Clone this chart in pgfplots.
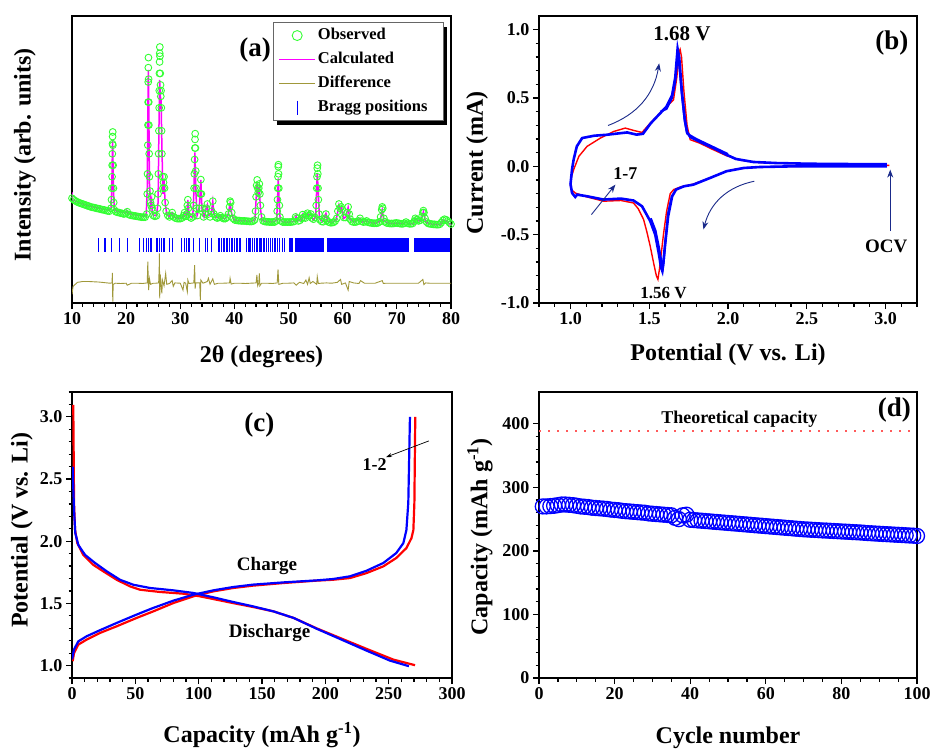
\documentclass[border=0pt]{standalone}
\usepackage{fontspec}
\setmainfont{Liberation Serif}
\usepackage{pgfplots}
\pgfplotsset{compat=1.18}
\usetikzlibrary{arrows.meta}
\definecolor{obsgreen}{HTML}{33FF33}
\definecolor{calcmag}{HTML}{FF00FF}
\definecolor{diffol}{HTML}{A0983A}
\definecolor{arrblue}{HTML}{1A2A8A}
\definecolor{theo}{HTML}{FF5A5A}
\newcommand\fsz[1]{\fontsize{#1pt}{#1pt}\selectfont\bfseries}
\newcommand\lgd[1]{\makebox[116pt][l]{#1}}
\pgfplotsset{
  myax/.style={scale only axis, anchor=south west,
    axis line style={line width=1.5pt},
    tick align=outside, xtick pos=bottom, ytick pos=left,
    major tick length=6pt, minor tick length=3.5pt,
    tick style={line width=1.2pt, black},
    /pgf/number format/assume math mode=true,
    tick label style={font=\fsz{18}},
    label style={font=\fsz{24}},
  },
  legend image code/.code={\draw[mark repeat=2,mark phase=2,#1] plot coordinates {(0pt,0pt) (18pt,0pt) (36pt,0pt)};},
}
\begin{document}
\begin{tikzpicture}[x=1pt,y=1pt]
\useasboundingbox (0,0) rectangle (931,-750);
% ---------------- (a) ----------------
\begin{axis}[myax, at={(72pt,-303pt)}, width=379pt, height=287pt,
  xmin=10, xmax=80, ymin=0, ymax=100, xtick={10,20,...,80}, minor x tick num=4, ytick=\empty,
  xlabel={2θ (degrees)}, ylabel={Intensity (arb. units)},
  xlabel style={at={(axis description cs:0.5,-0.188)}, anchor=center},
  ylabel style={at={(axis description cs:-0.124,0.516)}, anchor=center},
  legend style={at={(0.531,0.977)}, anchor=north west, draw=none, fill=none,
    font=\fsz{16.5}, inner xsep=5pt, inner ysep=3.5pt, row sep=5.5pt,
    nodes={text height=11pt, text depth=3.5pt, inner sep=2pt}},
  legend cell align=left]
\fill[black] (rel axis cs:0.5416,0.6216) rectangle (rel axis cs:0.9906,0.9631);
\draw[black!60, fill=white, line width=0.7pt] (rel axis cs:0.531,0.6355) rectangle (rel axis cs:0.98,0.977);
\addplot[only marks, mark=o, mark size=3.4pt, color=obsgreen, mark options={line width=0.9pt},
  legend image post style={mark size=5pt}] table {
10.0 36.5
10.3 36.0
10.6 35.6
10.9 35.3
11.2 35.0
11.5 34.8
11.8 34.6
12.1 34.4
12.4 34.2
12.7 34.0
13.0 33.8
13.3 33.6
13.6 33.4
13.9 33.3
14.2 33.2
14.5 33.0
14.8 32.9
15.1 32.8
15.4 32.6
15.7 32.5
16.0 32.4
16.3 32.2
16.6 32.1
16.9 32.0
17.2 33
17.3 36
17.35 40
17.4 44
17.42 48
17.45 52
17.48 55.5
17.5 58
17.52 59.6
17.55 55
17.6 48
17.65 40
17.7 35
17.8 32.5
18.1 31.8
18.4 31.6
18.7 31.5
19.0 31.3
19.3 31.2
19.6 31.0
19.9 31.3
20.2 31.8
20.5 30.8
20.8 30.6
21.1 30.5
21.4 30.4
21.7 30.3
22.0 30.2
22.3 30.1
22.6 30.0
22.9 29.9
23.2 29.9
23.5 29.9
23.8 31
23.9 38
23.95 45
24.0 55
24.03 62
24.06 70
24.08 77
24.1 82
24.12 85.5
24.15 78
24.18 70
24.2 62
24.25 52
24.3 44
24.4 39
24.5 35
24.6 34
24.7 37
24.8 33
25.0 30.5
25.3 30.2
25.6 30.4
25.8 33
25.9 38
25.95 45
26.0 52
26.05 60
26.1 68
26.12 74
26.15 80
26.18 84
26.2 87
26.22 89.2
26.25 86
26.3 80
26.35 76
26.4 72
26.45 74
26.5 68
26.55 60
26.6 52
26.7 44
26.8 40
26.9 42
27.0 44
27.1 40
27.2 35
27.4 32
27.7 30.5
28.0 30
28.3 30.5
28.5 31.5
28.8 30
29.1 29.6
29.4 29.4
29.7 29.4
30.0 29.4
30.3 29.6
30.6 30.4
30.8 31.5
31.0 30.2
31.2 31
31.3 34
31.4 36
31.5 33
31.7 30
32.0 29.6
32.3 30
32.45 34
32.55 40
32.6 45
32.65 50
32.7 54
32.72 57
32.75 59
32.8 54
32.85 46
32.9 40
33.0 33
33.2 30.5
33.5 33
33.7 38
33.8 43
33.9 38
34.0 33
34.3 30
34.6 31
34.8 33
35.0 34.5
35.2 31
35.5 30
35.8 32
36.0 35.5
36.2 31
36.5 30
36.8 29.6
37.1 29.8
37.4 30.4
37.7 29.7
38.0 29.4
38.3 29.4
38.6 29.8
38.9 31
39.1 33.5
39.2 35.5
39.3 35
39.5 31.5
39.8 29.4
40.1 28.9
40.4 28.8
40.7 28.7
41.0 28.7
41.3 28.6
41.6 28.6
41.9 28.6
42.2 28.5
42.5 28.5
42.8 28.4
43.1 28.4
43.4 28.5
43.7 28.9
43.9 32
44.0 37
44.1 41
44.2 42.9
44.3 40
44.4 38.5
44.5 40
44.6 41.5
44.7 38
44.8 34
45.0 30
45.3 28.6
45.6 28.4
45.9 28.3
46.2 28.3
46.5 28.2
46.8 28.2
47.1 28.2
47.4 28.2
47.7 28.6
47.9 32
47.95 36
48.0 40
48.05 44
48.1 47.5
48.12 48.2
48.15 45
48.2 40
48.3 34
48.4 30
48.6 28.6
48.9 28.2
49.2 28.2
49.5 28.2
49.8 28.2
50.1 28.2
50.4 28.2
50.7 28.3
51.0 28.4
51.3 30
51.5 29.5
51.8 28.6
52.1 28.8
52.4 29.5
52.6 30.8
52.8 29.8
53.1 29.6
53.3 30.6
53.5 31.3
53.7 30.4
53.9 30.4
54.1 31
54.3 29.6
54.6 29.2
54.9 29.8
55.1 34
55.2 40
55.25 44
55.3 47
55.35 48
55.4 45
55.45 40
55.5 36
55.6 31
55.8 29
56.1 28.4
56.4 28.3
56.7 29.5
56.9 31
57.1 28.8
57.4 28.2
57.7 28.0
58.0 28.0
58.3 28.1
58.6 28.5
58.9 29.5
59.1 32
59.3 34.5
59.5 33
59.7 33.5
59.9 32.5
60.2 29.8
60.5 29.8
60.8 31.5
61.0 33.5
61.2 31
61.4 29.2
61.7 28.4
62.0 28.2
62.3 28.2
62.6 28.3
62.9 28.6
63.2 29.5
63.5 28.5
63.8 28.2
64.1 28.3
64.4 28.6
64.7 28.1
65.0 28
65.3 27.9
65.6 27.8
65.9 27.8
66.2 27.8
66.5 27.9
66.8 28.3
67.0 30
67.2 32.5
67.3 33.5
67.4 33
67.6 29.5
67.8 28.3
68.1 27.9
68.4 27.8
68.7 27.7
69.0 27.7
69.3 27.7
69.6 27.8
69.9 27.9
70.2 27.8
70.5 27.7
70.8 27.6
71.1 27.6
71.4 27.8
71.7 28.2
72.0 27.8
72.3 27.6
72.6 27.6
72.9 27.7
73.2 28.4
73.4 29.5
73.6 29
73.8 29
74.0 28.6
74.3 28.8
74.6 30
74.8 31.5
74.9 32.2
75.0 31.5
75.2 29.5
75.5 28.2
75.8 27.7
76.1 27.6
76.4 27.5
76.7 27.4
77.0 27.4
77.3 27.3
77.6 27.3
77.9 27.4
78.2 28
78.5 28.8
78.8 29.2
79.1 29
79.4 28.6
79.7 28
80.0 27.5
};
\addlegendentry{\lgd{Observed}}
\addplot[calcmag, line width=1.5pt] table {
10.0 38.5
10.1 36.0
10.5 35.6
11 35.2
12 34.5
13 33.9
14 33.4
15 33.0
16 32.6
16.8 32.4
17.2 32.8
17.35 40
17.45 52
17.5 56.8
17.55 52
17.65 40
17.8 33
18 32.2
19 31.7
19.9 31.4
20.1 32.2
20.3 31.3
21 31.0
22 30.6
23 30.3
23.7 30.4
23.9 40
24.0 65
24.1 81.2
24.2 65
24.3 42
24.4 38.3
24.5 34
24.7 36
24.85 31
25.2 30.5
25.6 30.6
25.9 35
26.05 60
26.2 77.7
26.3 72
26.45 70.7
26.6 55
26.8 38
27.0 42.9
27.2 35
27.5 31
28.0 30.1
28.5 31.4
28.8 30
29.5 29.6
30.0 29.6
30.5 29.9
30.8 31.5
31.2 30.5
31.4 35.9
31.6 30.5
32.3 29.8
32.5 38
32.7 52.5
32.9 38
33.1 30.5
33.5 33
33.8 42.9
34.0 33
34.4 30
34.8 33
35.0 34.1
35.2 30.5
35.7 31
36.0 35.3
36.2 31
36.7 29.8
37.2 30.0
37.4 30.5
37.7 29.8
38.2 29.3
38.8 30.5
39.2 34.7
39.5 31
40 28.8
41 28.6
42 28.6
43 28.4
43.8 29
44.0 36
44.2 41.7
44.4 38
44.6 39.7
44.8 33
45.1 28.8
46 28.3
47 28.2
47.8 28.8
48.0 38
48.1 43.4
48.25 36
48.45 29
49 28.2
50 28.2
51.2 28.5
51.4 30.3
51.6 28.6
52.3 29
52.6 30.8
52.9 29.5
53.3 30.5
53.5 31.2
53.8 30.4
54.1 31.0
54.5 29
55.0 30
55.2 40
55.3 45.2
55.45 40
55.7 29.5
56.3 28.3
56.9 31.2
57.2 28.5
58 28
58.8 29
59.3 34.1
59.6 32.5
59.8 33.3
60.2 29.5
60.6 30
61.0 33.3
61.3 29.5
62 28.2
63.2 29.5
63.6 28.2
64.4 28.6
65 28
66 27.8
66.9 28.5
67.3 32.4
67.6 28.7
68.3 27.9
69 27.7
70 27.9
71 27.6
71.7 28.2
72.3 27.6
73 27.6
73.4 29.5
73.8 28.8
74.4 28.5
74.9 31.8
75.3 28.3
76 27.6
77 27.4
78 27.3
78.6 28.9
79.2 28.5
79.6 27.8
80 27.2
};
\addlegendentry{\lgd{Calculated}}
\addplot[diffol, line width=0.9pt] table {
10 3.0
10.2 5.8
11 7.2
12 7.5
13 7.5
14 7.4
15 7.3
16 7.1
17 6.9
17.4 7.0
17.45 10.5
17.5 3
17.55 0.5
17.6 6.5
18 6.9
19 6.8
20 6.9
20.2 6.2
21 6.9
22 6.9
23 6.8
23.9 7
24.0 14.4
24.1 7.5
24.15 4.5
24.3 8.5
24.5 6.5
25 6.9
25.5 6.9
26.0 7
26.1 12
26.15 17.3
26.2 1.6
26.3 10
26.5 5
26.6 3.4
26.7 8
27.0 6
27.3 10.3
27.5 6.5
28 6.8
28.5 7.8
28.7 5.8
29 7
30 6.9
30.5 4.5
30.7 7.2
31 6.9
31.3 3.9
31.4 8
31.6 6.8
32.5 7
32.65 13.2
32.75 5
32.85 7
33.6 7
33.7 1.0
33.8 8
34.2 6.9
35 7.5
35.2 8.6
35.5 6.5
36 8.4
36.3 6.5
37 6.9
38 6.9
39.1 7
39.2 8.6
39.4 6.6
40 6.9
41 6.9
42 6.8
43 6.9
44.0 7
44.15 9.8
44.3 6
44.5 7
44.6 10.3
44.7 6
45 6.9
46 6.9
47 6.8
47.9 7
48.05 11.7
48.2 6.5
49 6.9
50 6.9
51 7.0
51.4 6.2
52 7.2
52.8 6.8
53.2 8
53.5 6.5
53.8 8.8
54 6.8
54.5 7.5
55.2 6.5
55.3 9.2
55.5 6.8
56 6.9
57 7
58 6.9
59 7.2
59.6 8.2
59.8 6.5
60.5 7
61 4.5
61.2 7.5
62 7
63 6.8
63.3 7.8
64 6.9
65 6.9
66 6.9
67.3 7.8
67.5 6.8
68 6.9
70 6.9
72 6.9
74 6.9
74.8 8.2
75 6.4
75.3 7
76 6.9
78 6.9
80 6.9
};
\addlegendentry{\lgd{Difference}}
\addplot[only marks, mark=|, mark size=7pt, color=blue, mark options={line width=1.1pt}] table {
14.9 20.2
16.1 20.2
17.3 20.2
18.8 20.2
20.2 20.2
22.5 20.2
23.2 20.2
23.7 20.2
24.2 20.2
24.6 20.2
25.7 20.2
26.2 20.2
26.5 20.2
27.0 20.2
28.0 20.2
28.5 20.2
30.2 20.2
30.7 20.2
31.1 20.2
31.6 20.2
32.5 20.2
33.5 20.2
34.7 20.2
35.1 20.2
35.8 20.2
37.0 20.2
37.3 20.2
37.6 20.2
37.9 20.2
38.2 20.2
38.5 20.2
38.8 20.2
39.1 20.2
39.4 20.2
39.7 20.2
40.0 20.2
40.3 20.2
40.6 20.2
40.9 20.2
41.2 20.2
42.3 20.2
42.7 20.2
43.0 20.2
43.4 20.2
43.7 20.2
44.0 20.2
44.3 20.2
44.6 20.2
44.9 20.2
45.3 20.2
45.6 20.2
46.0 20.2
46.3 20.2
46.7 20.2
47.0 20.2
47.5 20.2
48.0 20.2
48.4 20.2
48.8 20.2
49.2 20.2
50.2 20.2
50.4 20.2
50.6 20.2
50.8 20.2
51.2 20.2
51.4 20.2
51.6 20.2
51.8 20.2
52.0 20.2
52.2 20.2
52.4 20.2
52.6 20.2
52.8 20.2
53.0 20.2
53.2 20.2
53.4 20.2
53.6 20.2
53.8 20.2
54.0 20.2
54.2 20.2
54.4 20.2
54.6 20.2
54.8 20.2
55.0 20.2
55.2 20.2
55.4 20.2
55.6 20.2
55.8 20.2
56.0 20.2
56.2 20.2
56.4 20.2
57.2 20.2
57.4 20.2
57.6 20.2
57.8 20.2
58.0 20.2
58.2 20.2
58.4 20.2
58.6 20.2
58.8 20.2
59.0 20.2
59.2 20.2
59.4 20.2
59.6 20.2
59.8 20.2
60.0 20.2
60.2 20.2
60.4 20.2
60.6 20.2
60.8 20.2
61.0 20.2
61.2 20.2
61.4 20.2
61.6 20.2
61.8 20.2
62.0 20.2
62.2 20.2
62.4 20.2
62.6 20.2
62.8 20.2
63.0 20.2
63.2 20.2
63.4 20.2
63.6 20.2
63.8 20.2
64.0 20.2
64.2 20.2
64.4 20.2
64.6 20.2
64.8 20.2
65.0 20.2
65.2 20.2
65.4 20.2
65.6 20.2
65.8 20.2
66.0 20.2
66.2 20.2
66.4 20.2
66.6 20.2
66.8 20.2
67.0 20.2
67.2 20.2
67.4 20.2
67.6 20.2
67.8 20.2
68.0 20.2
68.2 20.2
68.4 20.2
68.6 20.2
68.8 20.2
69.0 20.2
69.2 20.2
69.4 20.2
69.6 20.2
69.8 20.2
70.0 20.2
70.2 20.2
70.4 20.2
70.6 20.2
70.8 20.2
71.0 20.2
71.2 20.2
71.4 20.2
71.6 20.2
71.8 20.2
72.0 20.2
72.2 20.2
73.2 20.2
73.4 20.2
73.6 20.2
73.8 20.2
74.0 20.2
74.2 20.2
74.4 20.2
74.6 20.2
74.8 20.2
75.0 20.2
75.2 20.2
75.4 20.2
75.6 20.2
75.8 20.2
76.0 20.2
76.2 20.2
76.4 20.2
76.6 20.2
76.8 20.2
77.0 20.2
77.2 20.2
77.4 20.2
77.6 20.2
77.8 20.2
78.0 20.2
78.2 20.2
78.4 20.2
78.6 20.2
78.8 20.2
79.0 20.2
79.2 20.2
79.4 20.2
79.6 20.2
79.8 20.2
};
\addlegendentry{\lgd{Bragg positions}}
\node[font=\fsz{27}] at (axis cs:43.8,88.2) {(a)};
\end{axis}
% ---------------- (b) ----------------
\begin{axis}[myax, at={(539pt,-303pt)}, width=378pt, height=287pt,
  xmin=0.8, xmax=3.2, ymin=-1, ymax=1.1,
  xtick={1,1.5,2,2.5,3}, minor xtick={0.8,0.9,1.1,1.2,1.3,1.4,1.6,1.7,1.8,1.9,2.1,2.2,2.3,2.4,2.6,2.7,2.8,2.9,3.1,3.2},
  ytick={-1,-0.5,0,0.5,1}, minor y tick num=4,
  xticklabel style={/pgf/number format/.cd, fixed, fixed zerofill, precision=1},
  yticklabel style={/pgf/number format/.cd, fixed, fixed zerofill, precision=1},
  xlabel={Potential (V vs. Li)}, ylabel={Current (mA)},
  xlabel style={at={(axis description cs:0.5,-0.181)}, anchor=center},
  ylabel style={at={(axis description cs:-0.164,0.488)}, anchor=center}]
\addplot[red, line width=1.4pt] table {
3.025 0.007
2.6 0.002
2.3 -0.002
2.15 -0.008
2.05 -0.02
1.99 -0.036
1.886 -0.085
1.78 -0.13
1.70 -0.15
1.655 -0.17
1.633 -0.2
1.61 -0.33
1.59 -0.5
1.575 -0.65
1.565 -0.75
1.555 -0.827
1.545 -0.80
1.53 -0.72
1.506 -0.584
1.485 -0.48
1.464 -0.389
1.43 -0.31
1.40 -0.268
1.32 -0.25
1.21 -0.255
1.105 -0.224
1.03 -0.195
1.005 -0.17
1.0 -0.146
1.005 -0.08
1.02 -0.024
1.053 0.073
1.105 0.146
1.19 0.207
1.274 0.255
1.348 0.28
1.40 0.263
1.454 0.248
1.506 0.316
1.59 0.414
1.654 0.487
1.675 0.65
1.69 0.84
1.696 0.856
1.705 0.80
1.72 0.55
1.74 0.3
1.76 0.195
1.82 0.17
1.90 0.125
1.99 0.078
2.08 0.045
2.2 0.028
2.5 0.018
3.0 0.012
};
\addplot[blue, line width=2.6pt] table {
1.000 -0.13
1.010 -0.02
1.020 0.05
1.040 0.146
1.074 0.207
1.15 0.224
1.23 0.231
1.32 0.243
1.36 0.248
1.42 0.232
1.46 0.238
1.51 0.316
1.57 0.389
1.61 0.438
1.645 0.52
1.665 0.65
1.68 0.86
1.69 0.80
1.707 0.55
1.725 0.35
1.74 0.25
1.76 0.215
1.82 0.18
1.907 0.134
1.99 0.085
2.05 0.054
2.16 0.032
2.31 0.024
2.52 0.019
2.73 0.017
3.00 0.015
3.00 0.000
2.41 0.000
2.20 -0.005
2.10 -0.012
1.99 -0.036
1.886 -0.085
1.78 -0.134
1.72 -0.146
1.67 -0.17
1.645 -0.22
1.62 -0.365
1.60 -0.58
1.588 -0.72
1.583 -0.766
1.575 -0.74
1.56 -0.633
1.538 -0.50
1.506 -0.40
1.454 -0.292
1.40 -0.25
1.32 -0.236
1.21 -0.243
1.105 -0.219
1.042 -0.207
1.03 -0.224
1.01 -0.195
1.000 -0.13
};
\addplot[blue, line width=2pt] table {
1.57 0.40
1.61 0.42
1.645 0.50
1.665 0.62
1.678 0.78
1.69 0.74
1.707 0.52
1.725 0.33
1.74 0.24
1.80 0.20
1.90 0.145
2.0 0.09
};
\addplot[blue, line width=2pt] table {
1.645 -0.21
1.62 -0.34
1.602 -0.55
1.592 -0.70
1.587 -0.74
1.578 -0.70
1.563 -0.60
1.54 -0.47
1.51 -0.38
};
\draw[-{Stealth[length=8pt,width=6pt]}, color=arrblue, line width=0.9pt] (axis cs:1.238,0.299) to[bend right=30] (axis cs:1.563,0.754);
\draw[-{Stealth[length=8pt,width=6pt]}, color=arrblue, line width=0.9pt] (axis cs:2.167,-0.109) to[bend right=32] (axis cs:1.844,-0.462);
\draw[-{Stealth[length=8pt,width=6pt]}, color=arrblue, line width=0.9pt] (axis cs:1.133,-0.353) -- (axis cs:1.285,-0.134);
\draw[-{Stealth[length=8pt,width=6pt]}, color=arrblue, line width=0.9pt] (axis cs:3.03,-0.474) -- (axis cs:3.03,-0.024);
\node[font=\fsz{18}] at (axis cs:1.348,-0.054) {1-7};
\node[font=\fsz{19}] at (axis cs:3.004,-0.589) {OCV};
\node[font=\fsz{21}] at (axis cs:1.707,0.973) {1.68 V};
\node[font=\fsz{17}] at (axis cs:1.591,-0.925) {1.56 V};
\node[font=\fsz{27}] at (axis cs:3.04,0.9) {(b)};
\end{axis}
% ---------------- (c) ----------------
\begin{axis}[myax, at={(72pt,-678pt)}, width=380pt, height=286pt,
  xmin=0, xmax=300, ymin=0.9, ymax=3.2,
  xtick={0,50,...,300}, minor x tick num=4,
  ytick={1,1.5,2,2.5,3}, minor ytick={0.9,1.1,1.2,1.3,1.4,1.6,1.7,1.8,1.9,2.1,2.2,2.3,2.4,2.6,2.7,2.8,2.9,3.1,3.2},
  yticklabel style={/pgf/number format/.cd, fixed, fixed zerofill, precision=1},
  xlabel={Capacity (mAh g\textsuperscript{-1})}, ylabel={Potential (V vs. Li)},
  xlabel style={at={(axis description cs:0.5,-0.199)}, anchor=center},
  ylabel style={at={(axis description cs:-0.132,0.517)}, anchor=center}]
\addplot[red, line width=2.2pt] table {
1.0 3.096
1.4 2.6
1.6 2.31
2.4 2.09
4.2 1.985
8.9 1.89
16.8 1.81
24.7 1.758
35.3 1.69
45.8 1.637
53.7 1.61
69.5 1.592
87.9 1.578
101 1.557
114 1.53
127 1.503
143 1.471
159 1.436
175 1.383
193 1.30
211.6 1.222
232.6 1.134
253.7 1.048
270.8 1.003
};
\addplot[red, line width=2.2pt] table {
0.5 1.035
1.6 1.10
5 1.169
11.6 1.209
22 1.262
35.3 1.316
51 1.383
64.2 1.436
80 1.503
95.8 1.557
111.6 1.597
127.4 1.624
143 1.643
167 1.664
193 1.683
206 1.69
219.5 1.704
232.6 1.744
245.8 1.798
256 1.865
264 1.945
268 2.025
269.5 2.09
270.3 2.31
271 3.0
};
\addplot[blue, line width=2.2pt] table {
0.5 2.6
1.6 2.25
2.6 2.066
5 1.97
10.3 1.89
18.2 1.825
27.4 1.758
37.9 1.69
48.4 1.65
61.6 1.624
80 1.605
95.8 1.584
111.6 1.549
127.4 1.511
143 1.476
159 1.436
175 1.383
193 1.297
211.6 1.214
232.6 1.12
251 1.04
266 0.995
};
\addplot[blue, line width=2.2pt] table {
0 1.05
1.6 1.13
5 1.195
11.6 1.236
22 1.284
35.3 1.343
51 1.41
64 1.463
80 1.522
95.8 1.57
111.6 1.605
127.4 1.632
143 1.651
167 1.669
193 1.685
206 1.696
219.5 1.718
232.6 1.763
245.8 1.825
256 1.905
261.6 1.985
264 2.09
265.5 2.31
266.8 3.0
};
\draw[-{Stealth[length=6pt,width=4pt]}, black, line width=0.7pt] (axis cs:281.8,2.807) -- (axis cs:247.9,2.676);
\node[font=\fsz{18}] at (axis cs:239,2.614) {1-2};
\node[font=\fsz{19}] at (axis cs:154,1.803) {Charge};
\node[font=\fsz{19}] at (axis cs:156,1.262) {Discharge};
\node[font=\fsz{27}] at (axis cs:148,2.936) {(c)};
\end{axis}
% ---------------- (d) ----------------
\begin{axis}[myax, at={(539pt,-678pt)}, width=378pt, height=286pt,
  xmin=0, xmax=100, ymin=0, ymax=450,
  xtick={0,20,...,100}, minor x tick num=3,
  ytick={0,100,...,400}, minor y tick num=4,
  xlabel={Cycle number}, ylabel={Capacity (mAh g\textsuperscript{-1})},
  xlabel style={at={(axis description cs:0.5,-0.21)}, anchor=center},
  ylabel style={at={(axis description cs:-0.156,0.493)}, anchor=center}]
\addplot[theo, line width=2pt, dash pattern=on 2pt off 7pt] coordinates {(0,388) (100,388)};
\addplot[only marks, mark=o, mark size=7.5pt, blue, mark options={line width=1.3pt}] table {
1 270
2 270
3 270.5
4 271
5 272
6 273
7 273
8 272.5
9 272
10 271
11 270
12 269.5
13 269
14 268
15 267.5
16 267
17 266.5
18 266
19 265
20 264.5
21 264
22 263
23 262.5
24 262
25 261.5
26 261
27 260.5
28 260
29 259
30 258.5
31 258
32 257.5
33 257
34 256.5
35 256
36 252
37 250
38 256
39 257
40 249
41 248.5
42 248
43 247.5
44 247
45 246.5
46 246
47 245.5
48 245
49 244.5
50 244
51 243.5
52 243
53 242.5
54 242
55 241.5
56 241
57 240.5
58 240
59 239.5
60 239
61 238.5
62 238
63 237.5
64 237
65 236.5
66 236
67 235.5
68 235
69 234.5
70 234
71 233.7
72 233.3
73 233
74 232.6
75 232.2
76 232
77 231.6
78 231.3
79 231
80 230.6
81 230.3
82 230
83 229.6
84 229.3
85 229
86 228.5
87 228
88 227.7
89 227.3
90 227
91 226.6
92 226.3
93 226
94 225.6
95 225.3
96 225
97 224.6
98 224.3
99 224
100 223.5
};
\node[font=\fsz{18}] at (axis cs:53,407.4) {Theoretical capacity};
\node[font=\fsz{27}] at (axis cs:94,422) {(d)};
\end{axis}
\end{tikzpicture}
\end{document}
